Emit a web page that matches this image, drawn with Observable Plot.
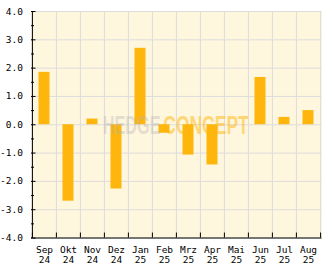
<!DOCTYPE html>
<html>
<head>
<meta charset="utf-8">
<script src="https://cdn.jsdelivr.net/npm/d3@7"></script>
<script src="https://cdn.jsdelivr.net/npm/@observablehq/plot@0.6"></script>
<style>
  html, body { margin: 0; padding: 0; background: #ffffff; }
</style>
</head>
<body>
<div id="chart"></div>
<script>
const months = ["Sep\n24","Okt\n24","Nov\n24","Dez\n24","Jan\n25","Feb\n25","Mrz\n25","Apr\n25","Mai\n25","Jun\n25","Jul\n25","Aug\n25"];
const values = [1.85, -2.7, 0.2, -2.27, 2.7, -0.3, -1.07, -1.42, 0, 1.67, 0.26, 0.5];
const yMajor = [-4, -3, -2, -1, 0, 1, 2, 3, 4];
const yMinor = [-3.5, -2.5, -1.5, -0.5, 0.5, 1.5, 2.5, 3.5];
const watermark = ["HEDGE", "CONCEPT"];

const W = 332, H = 269, mL = 31, mR = 10.5, mT = 11, mB = 31.5;
const plotW = W - mL - mR;
const plotH = H - mT - mB;
const bw = plotW / months.length;
const pxPerUnit = plotH / 8;

const data = months.map((m, i) => ({m, v: values[i]}));

const cream = "#FFF6DE";
const grid = "#DCDCDC";
const orange = "#FFB60C";
const font = "DejaVu Sans Mono";
const wmStyle = {frameAnchor: "middle", textAnchor: "start", dy: 1, fontFamily: "Liberation Sans",
  fontWeight: "bold", fontSize: 25, lineAnchor: "middle"};

const chart = Plot.plot({
  width: W,
  height: H,
  marginLeft: mL,
  marginRight: mR,
  marginTop: mT,
  marginBottom: mB,
  style: {fontFamily: font, fontSize: "9.5px", background: "#ffffff", color: "#000000"},
  x: {domain: months, padding: 0, label: null},
  y: {domain: [-4, 4], label: null},
  marks: [
    Plot.frame({fill: cream, stroke: null}),
    // vertical grid at band boundaries
    Plot.ruleX(months, {x: d => d, dx: -bw / 2, stroke: grid}),
    Plot.ruleX([months[months.length - 1]], {x: d => d, dx: bw / 2, stroke: grid}),
    // horizontal grid
    Plot.ruleY(yMajor, {stroke: grid}),
    // bars
    Plot.barY(data, {x: "m", y: "v", fill: orange, insetLeft: 6.5, insetRight: 6.5}),
    // watermark
    Plot.text([watermark[0]], {...wmStyle, text: d => d, dx: -74, fill: "#b0b0b0", fillOpacity: 0.35}),
    Plot.text([watermark[1]], {...wmStyle, text: d => d, dx: -13.5, fill: orange, fillOpacity: 0.5}),
    // axis lines
    Plot.ruleY([-4], {stroke: "#000000"}),
    Plot.ruleX([months[0]], {x: d => d, dx: -bw / 2, stroke: "#000000"}),
    // y ticks (inward)
    Plot.ruleY(yMajor, {stroke: "#000000", insetRight: plotW - 4.5}),
    Plot.ruleY(yMinor, {stroke: "#000000", insetRight: plotW - 3}),
    // x ticks (inward) at band boundaries
    Plot.ruleX(months, {x: d => d, dx: -bw / 2, y1: -4, y2: -4 + 5 / pxPerUnit, stroke: "#000000"}),
    Plot.ruleX([months[months.length - 1]], {x: d => d, dx: bw / 2, y1: -4, y2: -4 + 5 / pxPerUnit, stroke: "#000000"}),
    // axis labels
    Plot.axisY({ticks: yMajor, tickFormat: d => d.toFixed(1), tickSize: 0, tickPadding: 8.5, label: null,
      fontFamily: font, fontSize: 9.5, fill: "#000000"}),
    Plot.axisX({tickSize: 0, tickPadding: 8, label: null, lineHeight: 1.05,
      fontFamily: font, fontSize: 9.5, fill: "#000000"})
  ]
});

document.getElementById("chart").appendChild(chart);

// condense the watermark words horizontally
const wmScale = {[watermark[0]]: 0.65, [watermark[1]]: 0.7};
d3.select(chart).selectAll("text")
  .filter(function () { return this.textContent in wmScale; })
  .each(function () {
    const t = this.getAttribute("transform") || "";
    this.setAttribute("transform", (t + ` scale(${wmScale[this.textContent]},1)`).trim());
  });
</script>
</body>
</html>
